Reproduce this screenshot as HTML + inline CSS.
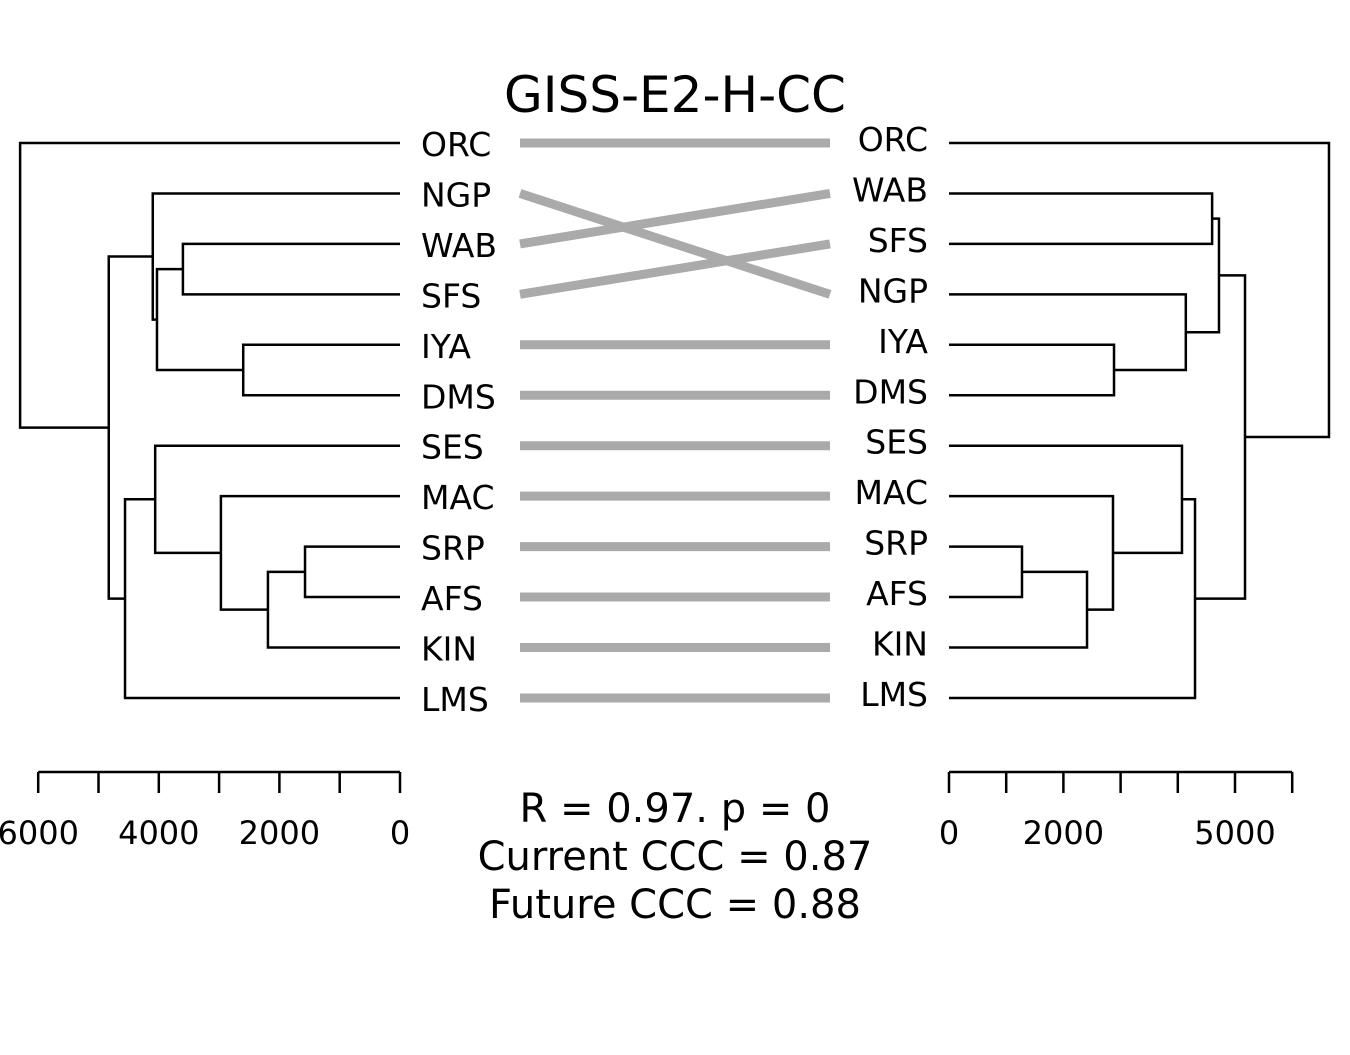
<!DOCTYPE html>
<html><head><meta charset="utf-8"><style>
html,body{margin:0;padding:0;background:#fff;}
svg text{font-family:"DejaVu Sans","Liberation Sans",sans-serif;fill:#000;}
</style></head><body>
<svg id="chart" width="1350" height="1050" xmlns="http://www.w3.org/2000/svg">
<text x="675" y="112" font-size="50" text-anchor="middle">GISS-E2-H-CC</text>
<text x="675" y="822" font-size="40" text-anchor="middle">R = 0.97. p = 0</text>
<text x="675" y="870" font-size="40" text-anchor="middle">Current CCC = 0.87</text>
<text x="675" y="918" font-size="40" text-anchor="middle">Future CCC = 0.88</text>
<g id="left"></g>
<g id="right"></g>
<g id="links"></g>
<g id="laxis"></g>
<g id="raxis"></g>
</svg>
<script>
const leftOrder = ["ORC","NGP","WAB","SFS","IYA","DMS","SES","MAC","SRP","AFS","KIN","LMS"];
const rightOrder = ["ORC","WAB","SFS","NGP","IYA","DMS","SES","MAC","SRP","AFS","KIN","LMS"];
// merges: [childA, childB, height]; numbers refer to earlier merge index
const leftMerge = [["WAB","SFS",3600],["IYA","DMS",2600],[0,1,4030],["NGP",2,4100],["SRP","AFS",1575],["KIN",4,2190],["MAC",5,2970],["SES",6,4060],["LMS",7,4560],[3,8,4830],["ORC",9,6300]];
const rightMerge = [["WAB","SFS",4600],["IYA","DMS",2885],["NGP",1,4140],[0,2,4720],["SRP","AFS",1276],["KIN",4,2413],["MAC",5,2867],["SES",6,4073],["LMS",7,4301],[3,8,5175],["ORC",9,6643]];
const leftTicks = [0,1000,2000,3000,4000,5000,6000];
const leftTickLabels = ["0","","2000","","4000","","6000"];
const rightTicks = [0,1000,2000,3000,4000,5000,6000];
const rightTickLabels = ["0","","2000","","","5000",""];

const NS="http://www.w3.org/2000/svg";
function yLeaf(i){return 143+i*50.45;}
const lx = h => 400 - h*0.0603;
const rx = h => 949 + h*0.0572;
function mk(tag,attrs,parent){const e=document.createElementNS(NS,tag);for(const k in attrs)e.setAttribute(k,attrs[k]);parent.appendChild(e);return e;}

function drawTree(g,order,merges,sx,side){
  const nodes=[];
  function pos(c){ if(typeof c==="string") return {y:yLeaf(order.indexOf(c)),h:0}; return nodes[c]; }
  merges.forEach((m,i)=>{
    const a=pos(m[0]), b=pos(m[1]), h=m[2];
    const d=`M${sx(a.h)},${a.y}H${sx(h)}V${b.y}H${sx(b.h)}`;
    const p=mk("path",{d:d,fill:"none",stroke:"#000","stroke-width":2.5},g);
    
    
    nodes.push({y:(a.y+b.y)/2,h:h});
  });
  order.forEach((name,i)=>{
    const t=mk("text",{x: side==="left"?421:928, y: yLeaf(i)+(side==="left"?13:8), "font-size":33, "text-anchor": side==="left"?"start":"end"},g);
    t.textContent=name;
    
    
  });
}
drawTree(document.getElementById("left"),leftOrder,leftMerge,lx,"left");
drawTree(document.getElementById("right"),rightOrder,rightMerge,rx,"right");

const links=document.getElementById("links");
leftOrder.forEach((name,i)=>{
  const j=rightOrder.indexOf(name);
  const l=mk("line",{x1:520,y1:yLeaf(i),x2:830,y2:yLeaf(j),stroke:"#aaaaaa","stroke-width":9},links);
  
  
});

function drawAxis(g,ticks,labels,sx,side){
  const ax=mk("line",{x1:sx(ticks[0]),x2:sx(ticks[ticks.length-1]),y1:772,y2:772,stroke:"#000","stroke-width":2.5},g);
  
  
  ticks.forEach((t,i)=>{
    const tk=mk("line",{x1:sx(t),x2:sx(t),y1:772,y2:793,stroke:"#000","stroke-width":2.5},g);
    
    
    if(labels[i]){
      const tx=mk("text",{x:sx(t),y:844,"font-size":32,"text-anchor":"middle"},g);
      tx.textContent=labels[i];
      
      
    }
  });
}
drawAxis(document.getElementById("laxis"),leftTicks,leftTickLabels,lx,"left");
drawAxis(document.getElementById("raxis"),rightTicks,rightTickLabels,rx,"right");
</script>
</body></html>
